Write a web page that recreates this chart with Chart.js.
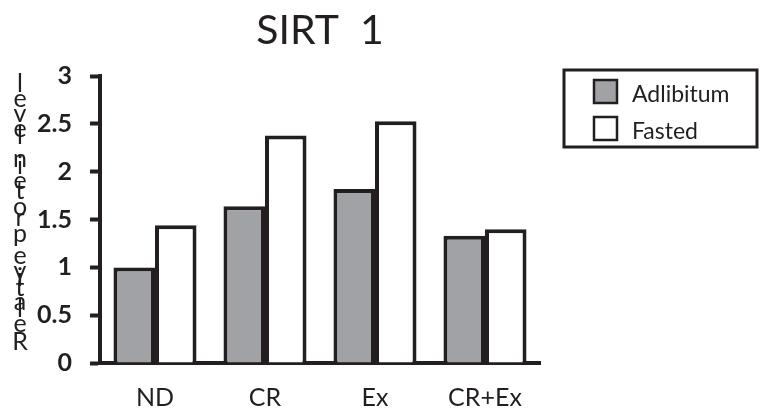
<!DOCTYPE html>
<html>
<head>
<meta charset="utf-8">
<script src="https://cdn.jsdelivr.net/npm/chart.js@4.4.1/dist/chart.umd.min.js"></script>
<style>
  html, body { margin: 0; padding: 0; background: #fff; }
  #wrap { width: 760px; height: 409px; }
</style>
</head>
<body>
<div id="wrap"><canvas id="sirtChart" width="760" height="409"></canvas></div>
<script>
const categories = ["ND", "CR", "Ex", "CR+Ex"];
const seriesNames = ["Adlibitum", "Fasted"];
const adlibitum = [1.0, 1.64, 1.82, 1.33];
const fasted = [1.44, 2.38, 2.53, 1.40];
const yTicks = ["0", "0.5", "1", "1.5", "2", "2.5", "3"];
const chartTitle = "SIRT  1";
const yTitle = "Relative protein level";

const ink = "#231f20";
const grey = "#a1a2a5";
const fontName = "Lato, 'Open Sans', sans-serif";

// stacked upright letters on the left, read from bottom to top
const yTitlePlugin = {
    id: "yTitle",
    afterDraw(chart) {
        const ctx = chart.ctx;
        ctx.save();
        ctx.font = "25px " + fontName;
        ctx.fillStyle = ink;
        ctx.textAlign = "center";
        ctx.textBaseline = "alphabetic";
        const chars = yTitle.split("");
        const widths = chars.map(c => ctx.measureText(c).width);
        const total = widths.slice(0, -1).reduce((a, b) => a + b, 0);
        const bottom = 350, top = 92;
        const k = (bottom - top) / total;
        let y = bottom;
        chars.forEach((c, i) => {
            ctx.fillText(c, 20, y);
            y -= widths[i] * k;
        });
        ctx.restore();
    }
};

const legendBoxPlugin = {
    id: "legendBox",
    afterDraw(chart) {
        const ctx = chart.ctx;
        ctx.save();
        ctx.strokeStyle = ink;
        ctx.lineWidth = 3;
        ctx.strokeRect(564, 70, 193, 77);
        ctx.font = "23px " + fontName;
        ctx.textBaseline = "alphabetic";
        chart.data.datasets.forEach((ds, i) => {
            const y = 80 + i * 37;
            ctx.fillStyle = ds.backgroundColor;
            ctx.fillRect(594, y, 23, 23);
            ctx.lineWidth = 2.5;
            ctx.strokeRect(594, y, 23, 23);
            ctx.fillStyle = ink;
            ctx.fillText(ds.label, 632, y + 22);
        });
        ctx.restore();
    }
};

new Chart(document.getElementById("sirtChart"), {
    type: "bar",
    data: {
        labels: categories,
        datasets: [
            { label: seriesNames[0], data: adlibitum, backgroundColor: grey, borderColor: ink, borderWidth: 4 },
            { label: seriesNames[1], data: fasted, backgroundColor: "#ffffff", borderColor: ink, borderWidth: 4 }
        ]
    },
    options: {
        responsive: false,
        animation: false,
        layout: { padding: { left: 0, right: 220, top: 0, bottom: 0 } },
        datasets: { bar: { categoryPercentage: 0.755, barPercentage: 1.0 } },
        plugins: {
            legend: { display: false },
            tooltip: { enabled: false },
            title: {
                display: true,
                text: chartTitle,
                fullSize: false,
                color: ink,
                font: { family: fontName, size: 41, weight: "normal", lineHeight: 1.2 },
                padding: { top: 6, bottom: 21 }
            }
        },
        scales: {
            x: {
                grid: { display: false, drawTicks: false },
                border: { display: true, color: ink, width: 4 },
                ticks: { color: ink, padding: 20, font: { family: fontName, size: 25 } },
                afterFit: s => { s.height = 46; }
            },
            y: {
                min: 0,
                max: 3,
                grid: { drawOnChartArea: false, drawTicks: true, tickLength: 10, tickWidth: 4, tickColor: ink },
                border: { display: true, color: ink, width: 4 },
                ticks: {
                    stepSize: 0.5,
                    color: ink,
                    padding: 18,
                    font: { family: fontName, size: 25, weight: "bold" },
                    callback: (v, i) => yTicks[i]
                },
                afterFit: s => { s.width = 100; }
            }
        }
    },
    plugins: [yTitlePlugin, legendBoxPlugin]
});
</script>
</body>
</html>
